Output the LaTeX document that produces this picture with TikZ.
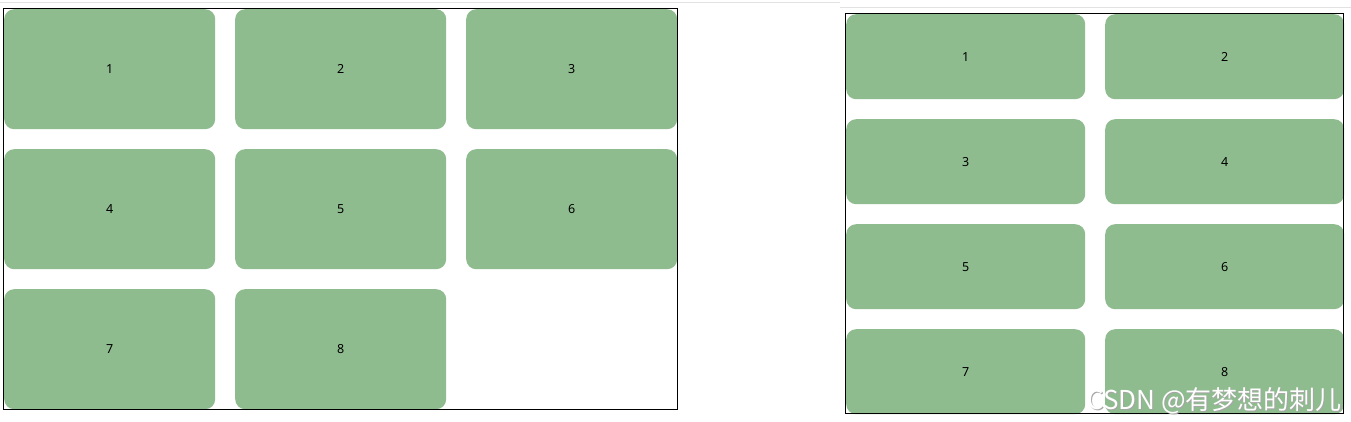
\documentclass[tikz,border=0pt]{standalone}
\usepackage{fontspec}
\setmainfont{Noto Sans}
\newfontfamily\cjkfont{Noto Sans CJK SC}
\definecolor{sea}{HTML}{8FBC8F}
\definecolor{rule}{HTML}{E2E2E2}
\tikzset{
  cell/.style={fill=sea, draw=none, rounded corners=10pt, inner sep=0pt, anchor=north west,
    font=\fontsize{12.5}{14}\selectfont, text=black, text depth=-1pt},
  lcell/.style={cell, minimum width=211pt, minimum height=120pt},
  rcell/.style={cell, minimum width=239pt, minimum height=85pt},
  frame/.style={draw=black, line width=1pt},
  topline/.style={draw=rule, line width=1pt},
}
\begin{document}
\begin{tikzpicture}[x=1pt,y=-1pt]
\useasboundingbox[fill=white] (0,0) rectangle (1351,422);
\draw[topline] (0,2.5) -- (840,2.5);
\draw[topline] (840,7.5) -- (1351,7.5);
% left grid
\node[lcell] (l1) at (4,9) {1};
\node[lcell] (l2) at (235,9) {2};
\node[lcell] (l3) at (466,9) {3};
\node[lcell] (l4) at (4,149) {4};
\node[lcell] (l5) at (235,149) {5};
\node[lcell] (l6) at (466,149) {6};
\node[lcell] (l7) at (4,289) {7};
\node[lcell] (l8) at (235,289) {8};
\draw[frame] (3.5,8.5) rectangle (677.5,409.5);
% right grid
\node[rcell] (r1) at (846,14) {1};
\node[rcell] (r2) at (1105,14) {2};
\node[rcell] (r3) at (846,119) {3};
\node[rcell] (r4) at (1105,119) {4};
\node[rcell] (r5) at (846,224) {5};
\node[rcell] (r6) at (1105,224) {6};
\node[rcell] (r7) at (846,329) {7};
\node[rcell] (r8) at (1105,329) {8};
\draw[frame] (845.5,13.5) rectangle (1343.5,413.5);
% watermark
\node[anchor=base west, inner sep=0pt, text=gray!70, font=\cjkfont\fontsize{26}{28}\selectfont] (wms) at (1088,410) {CSDN @有梦想的刺儿};
\node[anchor=base west, inner sep=0pt, text=white, font=\cjkfont\fontsize{26}{28}\selectfont] (wm) at (1087,409) {CSDN @有梦想的刺儿};
\end{tikzpicture}
\end{document}
